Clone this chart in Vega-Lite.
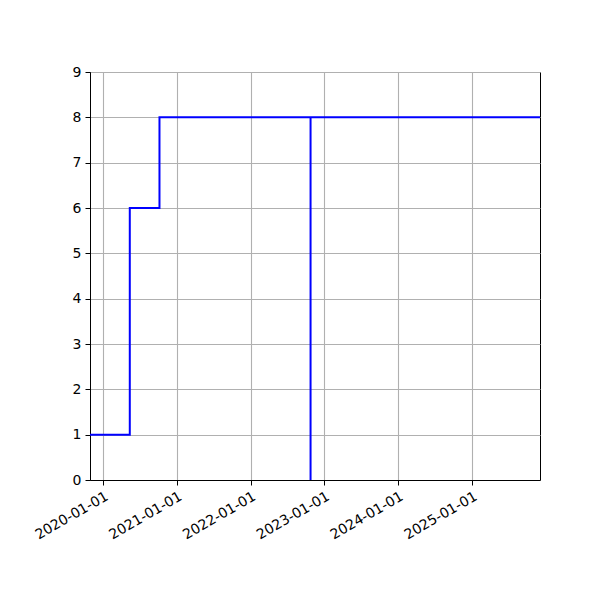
{
  "$schema": "https://vega.github.io/schema/vega-lite/v6.json",
  "width": 450,
  "height": 408,
  "autosize": "none",
  "padding": {"left": 90, "top": 72, "right": 60, "bottom": 120},
  "background": "white",
  "config": {
    "font": "DejaVu Sans",
    "view": {"stroke": "black", "strokeWidth": 1},
    "axis": {
      "domainColor": "black",
      "tickColor": "black",
      "tickSize": 5,
      "labelColor": "black",
      "labelFontSize": 14,
      "labelFont": "DejaVu Sans",
      "gridColor": "#b0b0b0",
      "gridWidth": 1.1,
      "grid": true
    }
  },
  "data": {
    "values": [
      {"i": 0, "date": "2019-10-28", "value": 1},
      {"i": 1, "date": "2020-05-12", "value": 6},
      {"i": 2, "date": "2020-10-06", "value": 8},
      {"i": 3, "date": "2022-10-24", "value": 0},
      {"i": 4, "date": "2022-10-24", "value": 8},
      {"i": 5, "date": "2025-12-03", "value": 8}
    ]
  },
  "mark": {"type": "line", "interpolate": "step-after", "color": "#0000ff", "strokeWidth": 2, "clip": true},
  "encoding": {
    "x": {
      "field": "date",
      "type": "temporal",
      "title": null,
      "scale": {
        "type": "utc",
        "domain": [
          {"year": 2019, "month": 10, "date": 28, "utc": true},
          {"year": 2025, "month": 12, "date": 3, "utc": true}
        ],
        "nice": false
      },
      "axis": {
        "format": "%Y-%m-%d",
        "tickCount": {"interval": "year", "step": 1},
        "labelAngle": -30,
        "labelAlign": "right",
        "labelBaseline": "top",
        "labelPadding": 4,
        "labelFlush": false,
        "labelOverlap": false
      }
    },
    "y": {
      "field": "value",
      "type": "quantitative",
      "title": null,
      "scale": {"domain": [0, 9], "nice": false},
      "axis": {"values": [0, 1, 2, 3, 4, 5, 6, 7, 8, 9], "labelPadding": 4}
    },
    "order": {"field": "i"}
  }
}
